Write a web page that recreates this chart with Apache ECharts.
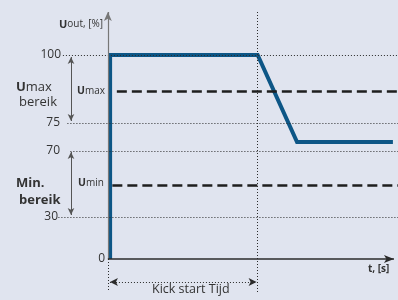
<!DOCTYPE html>
<html>
<head>
<meta charset="utf-8">
<script src="https://cdn.jsdelivr.net/npm/echarts@6/dist/echarts.min.js"></script>
<style>
  html, body { margin: 0; padding: 0; background: #e0e4ef; }
  #chart { width: 398px; height: 300px; }
</style>
</head>
<body>
<div id="chart"></div>
<script>
// levels on the (schematic, not linear) output axis, in %
var levelPct = [0, 30, 70, 75, 100];
var tickLabels = ['0', '30', '70', '75', '100'];
// where each level sits on the drawn axis
var levelPos = [0, 42, 108, 136, 204];

// output curve: time (kick start = 1) and output in %
var outT = [0.015, 0.015, 1.0, 1.263, 1.903];
var outPct = [0, 100, 100, 71.6, 71.6];

var kickT = 1.0;
var uMaxPct = 86.8;
var uMinPct = 49.4;

var blue = '#0d5686';
var dark = '#2b2b2b';

// percent -> axis position (piecewise)
function yOf(p) {
    for (var i = 1; i < levelPct.length; i++) {
        if (p <= levelPct[i]) {
            var f = (p - levelPct[i - 1]) / (levelPct[i] - levelPct[i - 1]);
            return levelPos[i - 1] + f * (levelPos[i] - levelPos[i - 1]);
        }
    }
    return levelPos[levelPos.length - 1];
}

function hline(x1, x2, pct, style) {
    return [
        {coord: [x1, yOf(pct)], symbol: 'none', lineStyle: style},
        {coord: [x2, yOf(pct)], symbol: 'none', lineStyle: style}
    ];
}

var dotted = {color: dark, width: 1, type: [1, 2]};
var dashed = {color: '#1e1e1e', width: 2.5, type: [10, 5]};
var xMin = -0.72;
var xEnd = 1.937;

var markData = [
    hline(-0.30, xEnd, 100, dotted),
    hline(-0.27, xEnd, 75, dotted),
    hline(-0.25, xEnd, 70, dotted),
    hline(-0.33, xEnd, 30, dotted),
    hline(0.06, xEnd, uMaxPct, dashed),
    hline(0.03, xEnd, uMinPct, dashed),
    // kick start vertical + t=0 extension
    [{coord: [kickT, 247], symbol: 'none', lineStyle: dotted}, {coord: [kickT, -33], symbol: 'none'}],
    [{coord: [0, 0], symbol: 'none', lineStyle: dotted}, {coord: [0, -33], symbol: 'none'}],
    // axes
    [{coord: [0, 0], symbol: 'none', lineStyle: {color: '#777', width: 1.2, type: 'solid'}},
     {coord: [0, 247], symbol: 'arrow', symbolSize: [6, 9]}],
    [{coord: [0, 0], symbol: 'none', lineStyle: {color: dark, width: 1.5, type: 'solid'}},
     {coord: [1.91, 0], symbol: 'arrow', symbolSize: [6, 10]}],
    // range arrows
    [{coord: [-0.246, yOf(100) - 2], symbol: 'arrow', symbolSize: [5, 7], lineStyle: {color: '#555', width: 1, type: 'solid'}},
     {coord: [-0.246, yOf(75) + 2], symbol: 'arrow', symbolSize: [5, 7]}],
    [{coord: [-0.246, yOf(70) - 1], symbol: 'arrow', symbolSize: [5, 7], lineStyle: {color: '#555', width: 1, type: 'solid'}},
     {coord: [-0.246, yOf(30) + 2], symbol: 'arrow', symbolSize: [5, 7]}],
    // kick start time arrow
    [{coord: [0.014, -23], symbol: 'arrow', symbolSize: [6, 8], lineStyle: dotted},
     {coord: [0.993, -23], symbol: 'arrow', symbolSize: [6, 8]}]
];

var richRight = function (pad) {
    return {fontSize: 12, color: '#333', fontFamily: 'Open Sans', padding: [0, pad, 0, 0]};
};

var option = {
    backgroundColor: '#e0e4ef',
    animation: false,
    grid: {left: 0, right: 0, top: 12, bottom: 0, outerBoundsMode: 'none', containLabel: false},
    xAxis: {
        type: 'value', min: xMin, max: xEnd,
        axisLine: {show: false, onZero: false}, axisTick: {show: false},
        axisLabel: {show: false}, splitLine: {show: false}
    },
    yAxis: {
        type: 'value', min: -41, max: 247,
        position: 'left',
        offset: -108,
        axisLine: {show: false, onZero: false}, axisTick: {show: false},
        splitLine: {show: false},
        axisLabel: {
            customValues: levelPos,
            margin: 3,
            formatter: function (v) {
                var i = levelPos.indexOf(v);
                if (i < 0) return '';
                var key = ['z', 'c', 'b', 'b', 'a'][i];
                return '{' + key + '|' + tickLabels[i] + '}';
            },
            rich: {z: richRight(0), a: richRight(44), b: richRight(45), c: richRight(47)}
        }
    },
    series: [
        {
            type: 'line', data: [], z: 2, silent: true,
            markLine: {silent: true, animation: false, label: {show: false}, data: markData}
        },
        {
            type: 'line', z: 3, symbol: 'none', clip: false,
            data: outT.map(function (t, i) { return [t, yOf(outPct[i])]; }),
            lineStyle: {color: blue, width: 4, join: 'miter'}
        }
    ],
    graphic: [
        {type: 'text', left: 59, top: 19, style: {
            text: '{b|U}{s|out, [%]}',
            rich: {b: {fontSize: 11, fontWeight: 'bold', fill: '#333', fontFamily: 'Open Sans'},
                   s: {fontSize: 10, fill: '#333', fontFamily: 'Open Sans'}}}},
        {type: 'text', left: 16, top: 81, style: {
            text: '{b|U}{s|max}',
            rich: {b: {fontSize: 13, fontWeight: 'bold', fill: '#333', fontFamily: 'Open Sans'},
                   s: {fontSize: 13, fill: '#333', fontFamily: 'Open Sans'}}}},
        {type: 'text', left: 19, top: 96, style: {text: 'bereik', fontSize: 13, fill: '#333', fontFamily: 'Open Sans'}},
        {type: 'text', left: 16, top: 177, style: {text: 'Min.', fontSize: 13, fontWeight: 'bold', fill: '#333', fontFamily: 'Open Sans'}},
        {type: 'text', left: 19, top: 194, style: {text: 'bereik', fontSize: 13, fontWeight: 'bold', fill: '#333', fontFamily: 'Open Sans'}},
        {type: 'text', left: 77, top: 86, style: {
            text: '{b|U}{s|max}',
            rich: {b: {fontSize: 10.5, fontWeight: 'bold', fill: '#333', fontFamily: 'Open Sans'},
                   s: {fontSize: 10, fill: '#333', fontFamily: 'Open Sans'}}}},
        {type: 'text', left: 78, top: 178, style: {
            text: '{b|U}{s|min}',
            rich: {b: {fontSize: 10.5, fontWeight: 'bold', fill: '#333', fontFamily: 'Open Sans'},
                   s: {fontSize: 10, fill: '#333', fontFamily: 'Open Sans'}}}},
        {type: 'text', left: 368, top: 264, style: {text: 't, [s]', fontSize: 10, fontWeight: 'bold', fill: '#333', fontFamily: 'Open Sans'}},
        {type: 'text', left: 152, top: 283, style: {text: 'Kick start Tijd', fontSize: 12.5, fill: '#333', fontFamily: 'Open Sans'}}
    ]
};

var myChart = echarts.init(document.getElementById('chart'));
myChart.setOption(option);
</script>
</body>
</html>
